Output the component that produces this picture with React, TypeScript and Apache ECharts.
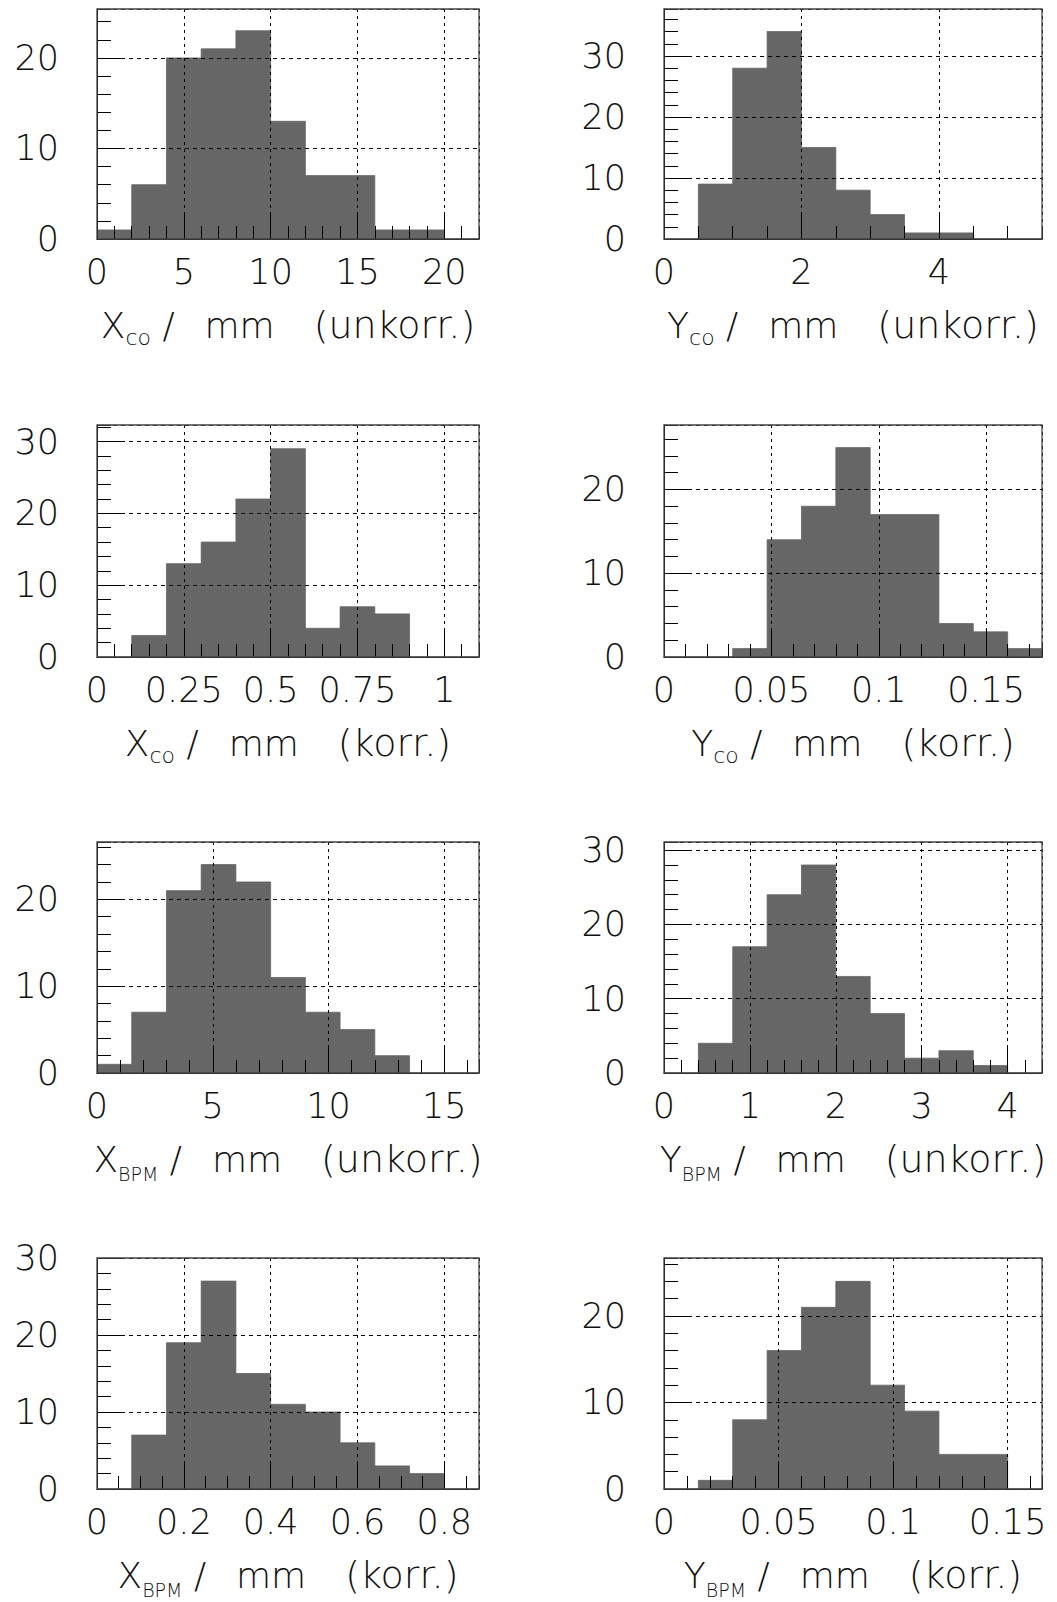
import React, { useEffect, useRef } from "react";
import * as echarts from "echarts";

// ---- Data (histogram counts, 11 bins each) ----
const xcoUnkorrBinWidth = 2;
const xcoUnkorrCounts = [1, 6, 20, 21, 23, 13, 7, 7, 1, 1, 0];

const ycoUnkorrBinWidth = 0.5;
const ycoUnkorrCounts = [0, 9, 28, 34, 15, 8, 4, 1, 1, 0, 0];

const xcoKorrBinWidth = 0.1;
const xcoKorrCounts = [0, 3, 13, 16, 22, 29, 4, 7, 6, 0, 0];

const ycoKorrBinWidth = 0.016;
const ycoKorrCounts = [0, 0, 1, 14, 18, 25, 17, 17, 4, 3, 1];

const xbpmUnkorrBinWidth = 1.5;
const xbpmUnkorrCounts = [1, 7, 21, 24, 22, 11, 7, 5, 2, 0, 0];

const ybpmUnkorrBinWidth = 0.4;
const ybpmUnkorrCounts = [0, 4, 17, 24, 28, 13, 8, 2, 3, 1, 0];

const xbpmKorrBinWidth = 0.08;
const xbpmKorrCounts = [0, 7, 19, 27, 15, 11, 10, 6, 3, 2, 0];

const ybpmKorrBinWidth = 0.015;
const ybpmKorrCounts = [0, 1, 8, 16, 21, 24, 12, 9, 4, 4, 0];

// ---- Axis settings ----
const xAxisMax = [22, 5.5, 1.1, 0.176, 16.5, 4.4, 0.88, 0.165];
const xMajorStep = [5, 2, 0.25, 0.05, 5, 1, 0.2, 0.05];
const xMinorStep = [1, 0.5, 0.05, 0.01, 1, 0.2, 0.05, 0.01];
const yAxisMax = [25.4, 37.7, 32.3, 27.7, 26.6, 31.1, 30, 26.7];
const yMajorStep = 10;
const yMinorStep = 2;

const axisVar = ["X", "Y", "X", "Y", "X", "Y", "X", "Y"];
const axisSub = ["co", "co", "co", "co", "BPM", "BPM", "BPM", "BPM"];
const axisTag = ["(unkorr.)", "(unkorr.)", "(korr.)", "(korr.)", "(unkorr.)", "(unkorr.)", "(korr.)", "(korr.)"];

const panelCounts = [
  xcoUnkorrCounts, ycoUnkorrCounts, xcoKorrCounts, ycoKorrCounts,
  xbpmUnkorrCounts, ybpmUnkorrCounts, xbpmKorrCounts, ybpmKorrCounts,
];
const panelBinWidth = [
  xcoUnkorrBinWidth, ycoUnkorrBinWidth, xcoKorrBinWidth, ycoKorrBinWidth,
  xbpmUnkorrBinWidth, ybpmUnkorrBinWidth, xbpmKorrBinWidth, ybpmKorrBinWidth,
];

// ---- Layout ----
const colLeft = [97, 664];
const colWidth = [382, 378];
const rowTop = [9, 425, 842, 1258];
const rowHeight = [230, 232, 231, 231];

const FILL = "#666666";
const FONT = "DejaVu Sans";
const TXT = "#111";

function isMultiple(max: number, step: number) {
  const r = max / step;
  return Math.abs(r - Math.round(r)) < 1e-6;
}

function buildOption() {
  const grid: any[] = [];
  const xAxis: any[] = [];
  const yAxis: any[] = [];
  const series: any[] = [];
  const tickLine = { color: "#000", width: 1 };
  const base = { fontFamily: FONT, fontWeight: 200, color: TXT, lineHeight: 42 };

  for (let i = 0; i < 8; i++) {
    const col = i % 2;
    const row = Math.floor(i / 2);
    grid.push({
      left: colLeft[col],
      top: rowTop[row],
      width: colWidth[col],
      height: rowHeight[row],
      show: true,
      borderColor: "#444",
      borderWidth: 1.3,
      backgroundColor: "transparent",
      z: 10,
      containLabel: false,
      outerBoundsMode: "none",
    });
    const subStyle = axisSub[i] === "co" ? "sc" : "sb";
    const name = `{m|${axisVar[i]}}{${subStyle}|${axisSub[i]}}{m| /}{g1| }{m|mm}{g2| }{t|${axisTag[i]}}`;
    // major x axis
    xAxis.push({
      gridIndex: i,
      type: "value",
      position: "bottom",
      min: 0,
      max: xAxisMax[i],
      interval: xMajorStep[i],
      z: 5,
      axisLine: { show: true, onZero: false, lineStyle: tickLine },
      axisTick: { show: true, inside: true, length: 27, lineStyle: tickLine },
      axisLabel: {
        show: true,
        margin: 15,
        fontSize: 35,
        fontFamily: FONT,
        fontWeight: 200,
        color: TXT,
        showMinLabel: true,
        showMaxLabel: isMultiple(xAxisMax[i], xMajorStep[i]),
      },
      splitLine: { show: true, lineStyle: { color: "#000", width: 1, type: [3, 4] } },
      name,
      nameLocation: "middle",
      nameGap: 65,
      nameTextStyle: {
        rich: {
          m: { ...base, fontSize: 36 },
          t: { ...base, fontSize: 38 },
          g1: { ...base, fontSize: 36, width: 30 },
          g2: { ...base, fontSize: 36, width: 39 },
          sc: { ...base, fontSize: 22, padding: [24, 0, 0, 0] },
          sb: { ...base, fontSize: 19, padding: [30, 0, 0, 0] },
        },
      },
    });
    // minor x axis (ticks only)
    xAxis.push({
      gridIndex: i,
      type: "value",
      position: "bottom",
      min: 0,
      max: xAxisMax[i],
      interval: xMinorStep[i],
      z: 5,
      axisLine: { show: false, onZero: false },
      axisTick: { show: true, inside: true, length: 13, lineStyle: tickLine },
      axisLabel: { show: false },
      splitLine: { show: false },
    });
    // major y axis
    yAxis.push({
      gridIndex: i,
      type: "value",
      position: "left",
      min: 0,
      max: yAxisMax[i],
      interval: yMajorStep,
      z: 5,
      axisLine: { show: true, onZero: false, lineStyle: tickLine },
      axisTick: { show: true, inside: true, length: 28, lineStyle: tickLine },
      axisLabel: {
        show: true,
        margin: 38,
        fontSize: 35,
        fontFamily: FONT,
        fontWeight: 200,
        color: TXT,
        showMinLabel: true,
        showMaxLabel: isMultiple(yAxisMax[i], yMajorStep),
      },
      splitLine: { show: true, lineStyle: { color: "#000", width: 1, type: [4, 4] } },
    });
    // minor y axis (ticks only)
    yAxis.push({
      gridIndex: i,
      type: "value",
      position: "left",
      min: 0,
      max: yAxisMax[i],
      interval: yMinorStep,
      z: 5,
      axisLine: { show: false, onZero: false },
      axisTick: { show: true, inside: true, length: 14, lineStyle: tickLine },
      axisLabel: { show: false },
      splitLine: { show: false },
    });

    // histogram as a stepped filled area: one point per bin start, plus the last bin's end
    const bw = panelBinWidth[i];
    const counts = panelCounts[i];
    const data: number[][] = counts.map((c, k) => [k * bw, c]);
    data.push([counts.length * bw, counts[counts.length - 1]]);
    series.push({
      type: "line",
      xAxisIndex: 2 * i,
      yAxisIndex: 2 * i,
      z: 2,
      step: "end",
      symbol: "none",
      showSymbol: false,
      silent: true,
      data,
      lineStyle: { color: FILL, width: 0.8 },
      areaStyle: { color: FILL, opacity: 1, origin: "start" },
    });
  }

  return {
    animation: false,
    backgroundColor: "#fff",
    grid,
    xAxis,
    yAxis,
    series,
  };
}

export default function App() {
  const ref = useRef<HTMLDivElement>(null);
  useEffect(() => {
    if (!ref.current) return;
    const chart = echarts.init(ref.current, undefined, { renderer: "svg" });
    chart.setOption(buildOption() as any);
    return () => chart.dispose();
  }, []);
  return (
    <div
      ref={ref}
      style={{ position: "absolute", left: 0, top: 0, width: 1057, height: 1602, background: "#fff" }}
    />
  );
}
